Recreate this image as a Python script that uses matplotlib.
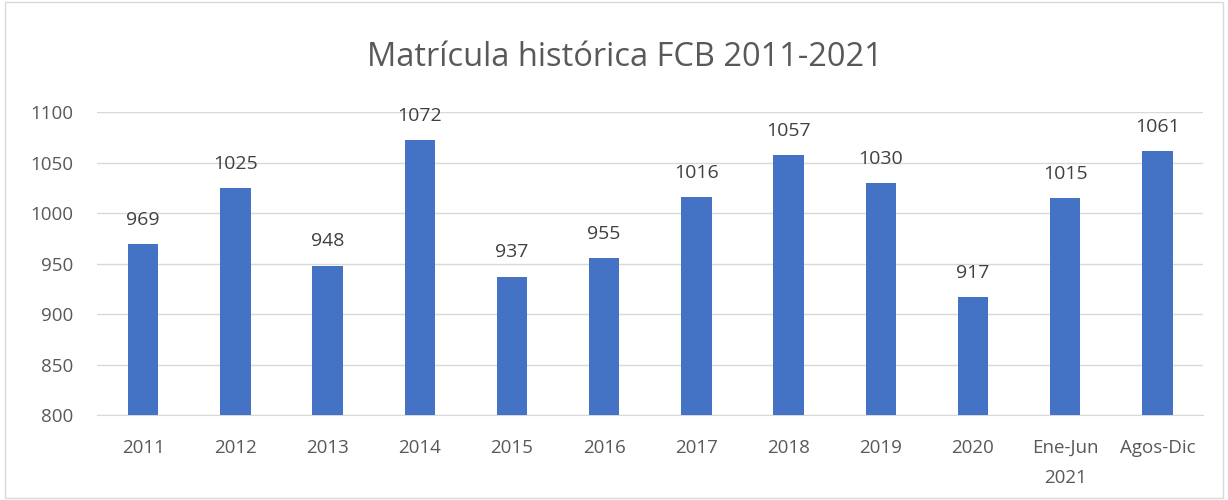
import numpy as np
import matplotlib.pyplot as plt
from matplotlib.patches import Rectangle

categorias = ["2011", "2012", "2013", "2014", "2015", "2016", "2017",
              "2018", "2019", "2020", "Ene-Jun\n2021", "Agos-Dic"]
matricula = [969, 1025, 948, 1072, 937, 955, 1016, 1057, 1030, 917, 1015, 1061]

plt.rcParams['font.family'] = ['Open Sans', 'DejaVu Sans']

fig = plt.figure(figsize=(12.28, 5.0), dpi=100)
ax = fig.add_axes([0.079, 0.17, 0.901, 0.606])

x = np.arange(len(categorias))
ax.bar(x, matricula, width=0.33, color="#4472C4", zorder=3)

for xi, v in zip(x, matricula):
    ax.text(xi, v + 15, str(v), ha="center", va="bottom", fontsize=14, color="#404040")

ax.set_xlim(-0.5, len(categorias) - 0.5)
ax.set_ylim(800, 1100)
ax.set_yticks(range(800, 1101, 50))
ax.set_xticks(x)
ax.set_xticklabels(categorias, linespacing=1.85)
ax.tick_params(axis="both", length=0, labelsize=13.5, colors="#595959")
ax.tick_params(axis="x", pad=17)
ax.tick_params(axis="y", pad=17)
ax.yaxis.grid(True, color="#d9d9d9", linewidth=1, zorder=0)
for s in ["top", "right", "left"]:
    ax.spines[s].set_visible(False)
ax.spines["bottom"].set_color("#d9d9d9")

fig.text(0.509, 0.885, "Matrícula histórica FCB 2011-2021", ha="center", va="center",
         fontsize=23.5, color="#595959")

fig.patches.append(Rectangle((0.004, 0.004), 0.992, 0.992, transform=fig.transFigure,
                             fill=False, edgecolor="#d9d9d9", linewidth=1))

fig.savefig("out.png", dpi=100)
